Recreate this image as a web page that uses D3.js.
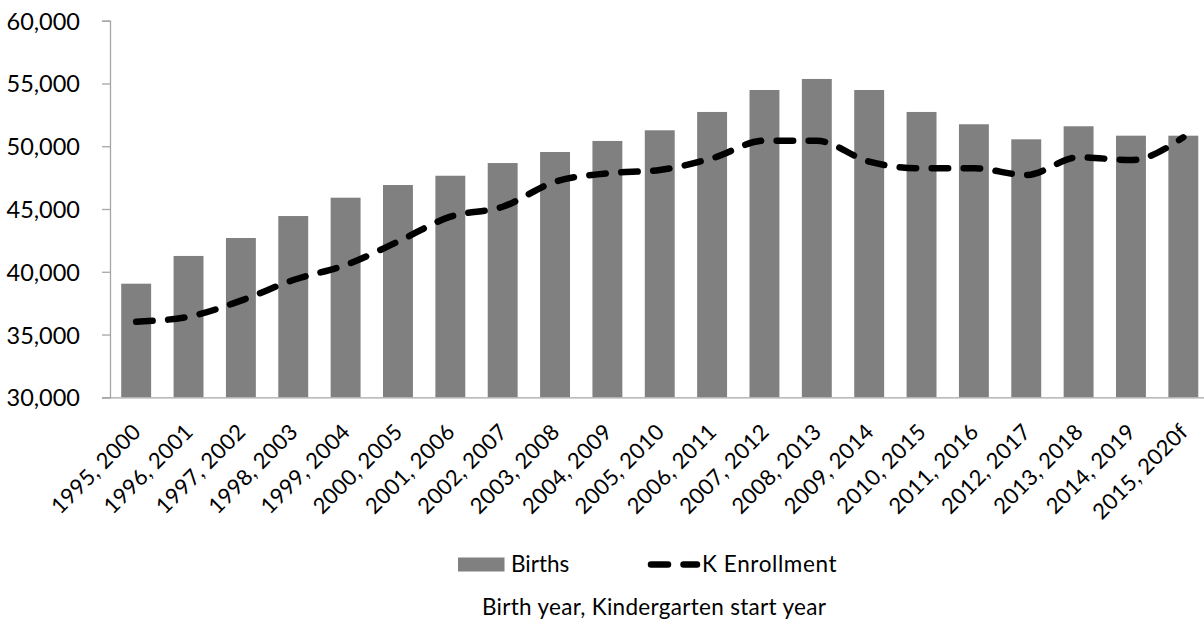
<!DOCTYPE html>
<html>
<head>
<meta charset="utf-8">
<script src="https://cdn.jsdelivr.net/npm/d3@7"></script>
<style>
  html, body { margin: 0; padding: 0; background: #fff; }
  svg { display: block; }
  text { font-family: Lato, "Open Sans", sans-serif; fill: #000; }
</style>
</head>
<body>
<svg id="chart" width="1204" height="626"></svg>
<script>
const categories = ["1995, 2000","1996, 2001","1997, 2002","1998, 2003","1999, 2004","2000, 2005","2001, 2006","2002, 2007","2003, 2008","2004, 2009","2005, 2010","2006, 2011","2007, 2012","2008, 2013","2009, 2014","2010, 2015","2011, 2016","2012, 2017","2013, 2018","2014, 2019","2015, 2020f"];
const births = [39050,41260,42690,44440,45900,46910,47650,48660,49540,50420,51270,52730,54480,55360,54480,52730,51750,50550,51590,50840,50840];
const enrollment = [36020,36420,37700,39340,40540,42400,44390,45180,47170,47840,48110,49040,50440,50440,48770,48240,48240,47710,49120,48900,50710];
const yTicks = [30000,35000,40000,45000,50000,55000,60000];
const seriesNames = ["Births","K Enrollment"];
const axisTitle = "Birth year, Kindergarten start year";

const svg = d3.select("#chart");
const mLeft = 110, mRight = 1209.5, mTop = 20.7, mBottom = 397.3;

const x = d3.scaleBand().domain(categories).range([mLeft, mRight])
  .paddingInner(0.75/1.75).paddingOuter(0.375/1.75);
const y = d3.scaleLinear().domain([30000, 60000]).range([mBottom, mTop]);

// bars
svg.append("g").selectAll("rect").data(births).join("rect")
  .attr("x", (d,i) => x(categories[i]))
  .attr("width", x.bandwidth())
  .attr("y", d => y(d))
  .attr("height", d => y(30000) - y(d))
  .attr("fill", "#808080");

// y axis
const yAxis = svg.append("g").attr("transform", `translate(${mLeft},0)`)
  .call(d3.axisLeft(y).tickValues(yTicks).tickFormat(d3.format(",")).tickSize(8).tickPadding(22));
yAxis.select(".domain").attr("stroke", "#a6a6a6").attr("stroke-width", 1.3);
yAxis.selectAll(".tick line").attr("stroke", "#a6a6a6").attr("stroke-width", 1.3);
yAxis.selectAll(".tick text").attr("font-size", 23.5).attr("font-family", "Lato, sans-serif").attr("fill", "#000")
  .attr("dy", "0.36em");

// x axis
const xAxis = svg.append("g").attr("transform", `translate(0,${mBottom})`)
  .call(d3.axisBottom(x).tickSize(0).tickPadding(0));
xAxis.select(".domain").attr("stroke", "#a6a6a6").attr("stroke-width", 1.3)
  .attr("d", `M${mLeft - 8},0.5H1204`);
xAxis.selectAll(".tick text")
  .attr("font-size", 22).attr("font-family", "Lato, sans-serif").attr("fill", "#000")
  .attr("text-anchor", "end")
  .attr("dy", "0")
  .attr("letter-spacing", 0.3)
  .attr("transform", "translate(6,36) rotate(-45)");

// line
const line = d3.line()
  .x((d,i) => x(categories[i]) + x.bandwidth()/2)
  .y(d => y(d))
  .curve(d3.curveMonotoneX);
svg.append("path").datum(enrollment)
  .attr("d", line)
  .attr("fill", "none")
  .attr("stroke", "#000")
  .attr("stroke-width", 6.5)
  .attr("stroke-linecap", "round")
  .attr("stroke-dasharray", "16.5,15.5");

// legend
const lg = svg.append("g");
lg.append("rect").attr("x", 458).attr("y", 557.5).attr("width", 46.5).attr("height", 14).attr("fill", "#808080");
lg.append("text").attr("x", 511).attr("y", 572).attr("font-size", 22.5).text(seriesNames[0]);
lg.append("line").attr("x1", 651).attr("x2", 697).attr("y1", 564.5).attr("y2", 564.5)
  .attr("stroke", "#000").attr("stroke-width", 6.5).attr("stroke-linecap", "round")
  .attr("stroke-dasharray", "17,15.5");
lg.append("text").attr("x", 702).attr("y", 572).attr("font-size", 22.5).attr("letter-spacing", 0.6).text(seriesNames[1]);

// axis title
svg.append("text").attr("x", 654).attr("y", 615).attr("text-anchor", "middle")
  .attr("font-size", 22.5).attr("letter-spacing", 0.3).text(axisTitle);
</script>
</body>
</html>
